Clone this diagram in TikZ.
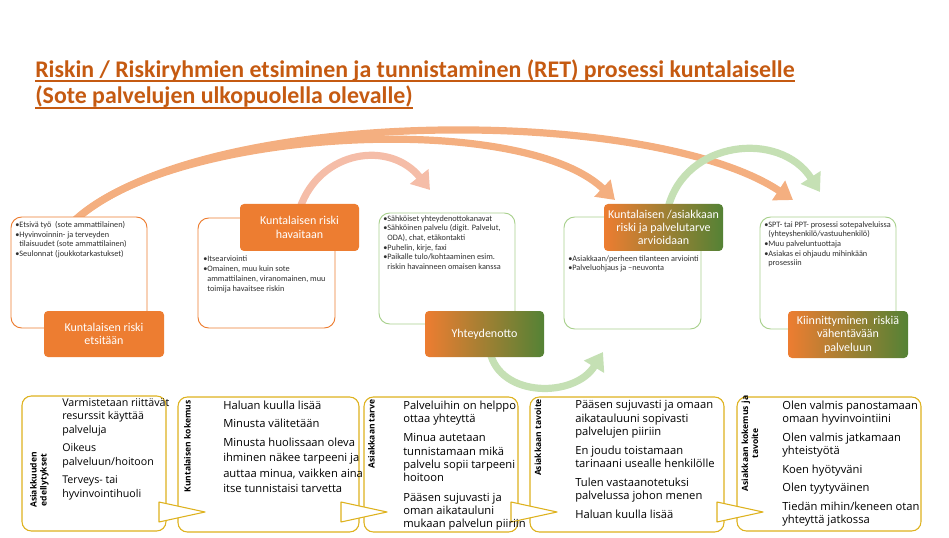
\documentclass[tikz,border=0pt]{standalone}
\usepackage{fontspec}
\setmainfont{Carlito}
\newfontfamily\bodyfont{Open Sans}
\usetikzlibrary{arrows.meta,fit}
\definecolor{ttl}{HTML}{C55A11}
\definecolor{org}{HTML}{ED7D31}
\definecolor{grn}{HTML}{548235}
\definecolor{lgrn}{HTML}{A9D18E}
\definecolor{arcor}{HTML}{F4AF80}
\definecolor{arcsal}{HTML}{F5BDA8}
\definecolor{arcgr}{HTML}{C5E0B4}
\definecolor{gold}{RGB}{222,178,30}
\definecolor{smtxt}{HTML}{303030}
\begin{document}
\begin{tikzpicture}[x=0.75pt,y=-0.75pt,
  topbox/.style={draw, line width=0.7pt, rounded corners=8pt, fill=white, inner sep=0pt},
  lab/.style={rounded corners=3pt, inner sep=0pt},
  labtxt/.style={text=white, align=center, font=\fontsize{9}{10}\selectfont, inner sep=0pt},
  smalltxt/.style={align=left, inner sep=0pt, anchor=north west, text=smtxt, font=\fontsize{6.2}{7.3}\selectfont},
  botbox/.style={draw=gold, line width=0.8pt, rounded corners=7pt, fill=white, inner sep=0pt},
  bottxt/.style={align=left, inner sep=0pt, anchor=north west, font=\bodyfont\fontsize{8.4}{10}\selectfont},
  rottxt/.style={rotate=90, align=center, inner sep=0pt, font=\bodyfont\bfseries\fontsize{6.4}{7.5}\selectfont},
  arcline/.style={line width=5.4pt, -{Triangle[width=17pt,length=13pt]}},
  tri/.style={draw=gold, line width=0.8pt, fill=white, line join=round},
  ttltxt/.style={anchor=base west, inner sep=0pt, text=ttl, font=\bfseries\fontsize{17.9}{20}\selectfont},
  ul/.style={draw=ttl, line width=1.4pt}
]
\useasboundingbox (0,0) rectangle (949,538);

% title
\node[ttltxt] (t1) at (35,77.5) {Riskin / Riskiryhmien etsiminen ja tunnistaminen (RET) prosessi kuntalaiselle};
\node[ttltxt] (t2) at (35,104) {(Sote palvelujen ulkopuolella olevalle)};
\draw[ul] ([yshift=-2.8pt]t1.base west) -- ([yshift=-2.8pt]t1.base east);
\draw[ul] ([yshift=-2.8pt]t2.base west) -- ([yshift=-2.8pt]t2.base east);

% arc coordinates
\coordinate (s1) at (73,222);
\coordinate (e5) at (793,200);
\coordinate (e4) at (615,200);
\coordinate (s2) at (300,208);
\coordinate (e3) at (430,190);
\coordinate (s4) at (668,208);
\coordinate (e5b) at (820,192);
\coordinate (s3b) at (490,352);
\coordinate (e4b) at (603,352);

\draw[arcline, arcor] (s1) .. controls (200,105) and (650,105) .. (e5);
\draw[arcline, arcor] (s1) .. controls (170,128) and (520,110) .. (e4);
\draw[arcline, arcsal] (s2) .. controls (320,150) and (390,140) .. (e3);
\draw[arcline, arcgr] (s4) .. controls (685,140) and (780,130) .. (e5b);
\draw[arcline, arcgr] (s3b) .. controls (500,398) and (575,398) .. (e4b);

% top boxes
\node[topbox, draw=org, fit={(11,217) (147,328)}] (b1) {};
\node[topbox, draw=org, fit={(198,218) (335,328)}] (b2) {};
\node[topbox, draw=lgrn, fit={(379,213) (515,324)}] (b3) {};
\node[topbox, draw=lgrn, fit={(564,217) (701,329)}] (b4) {};
\node[topbox, draw=lgrn, fit={(760,217) (896,329)}] (b5) {};

\node[smalltxt] (b1t) at (15,221) {•Etsivä työ\ \ (sote ammattilainen)\\•Hyvinvoinnin- ja terveyden\\\phantom{•}tilaisuudet (sote ammattilainen)\\•Seulonnat (joukkotarkastukset)};
\node[smalltxt] (b2t) at (203,256) {•Itsearviointi\\•Omainen, muu kuin sote\\\phantom{•}ammattilainen, viranomainen, muu\\\phantom{•}toimija havaitsee riskin};
\node[smalltxt] (b3t) at (383,215) {•Sähköiset yhteydenottokanavat\\•Sähköinen palvelu (digit. Palvelut,\\\phantom{•}ODA), chat, etäkontakti\\•Puhelin, kirje, faxi\\•Paikalle tulo/kohtaaminen esim.\\\phantom{•}riskin havainneen omaisen kanssa};
\node[smalltxt] (b4t) at (568,255) {•Asiakkaan/perheen tilanteen arviointi\\•Palveluohjaus ja –neuvonta};
\node[smalltxt] (b5t) at (764,221) {•SPT- tai PPT- prosessi sotepalveluissa\\\phantom{•}(yhteyshenkilö/vastuuhenkilö)\\•Muu palveluntuottaja\\•Asiakas ei ohjaudu mihinkään\\\phantom{•}prosessiin};

% labels
\node[lab, fill=org, fit={(44,311) (164,357)}] (l1) {};
\node[lab, fill=org, fit={(240,204) (359,251)}] (l2) {};
\node[lab, left color=org, right color=grn, fit={(425,311) (544,357)}] (l3) {};
\node[lab, left color=org, right color=grn, fit={(604,204) (723,251)}] (l4) {};
\node[lab, left color=org, right color=grn, fit={(788,311) (908,358)}] (l5) {};
\node[labtxt] at (l1.center) {Kuntalaisen riski\\etsitään};
\node[labtxt] at (l2.center) {Kuntalaisen riski\\havaitaan};
\node[labtxt] at (l3.center) {Yhteydenotto};
\node[labtxt] at (l4.center) {Kuntalaisen /asiakkaan\\riski ja palvelutarve\\arvioidaan};
\node[labtxt] at (l5.center) {Kiinnittyminen\ \ riskiä\\vähentävään\\palveluun};

% bottom boxes
\node[botbox, fit={(22,396) (166,531)}] (c1) {};
\node[botbox, fit={(178,397) (359,532)}] (c2) {};
\node[botbox, fit={(364,397) (518,532)}] (c3) {};
\node[botbox, fit={(530,397) (724,532)}] (c4) {};
\node[botbox, fit={(737,397) (921,531)}] (c5) {};

% pointers
\coordinate (p1) at (205,512);
\coordinate (p2) at (387,512);
\coordinate (p3) at (557,512);
\coordinate (p4) at (763,512);
\path[tri] (159,502) -- (p1) -- (159,522) -- cycle;
\path[tri] (341,502) -- (p2) -- (341,522) -- cycle;
\path[tri] (511,502) -- (p3) -- (511,522) -- cycle;
\path[tri] (717,502) -- (p4) -- (717,522) -- cycle;

\node[rottxt] (r1) at (39.5,480) {Asiakkuuden\\edellytykset};
\node[rottxt] (r2) at (187.5,446.5) {Kuntalaisen kokemus};
\node[rottxt] (r3) at (371.5,434) {Asiakkaan tarve};
\node[rottxt] (r4) at (538,437.5) {Asiakkaan tavoite};
\node[rottxt] (r5) at (750,443.5) {Asiakkaan kokemus ja\\tavoite};

\node[bottxt, font=\bodyfont\fontsize{8}{10}\selectfont] (c1t) at (62,398.5) {Varmistetaan riittävät\\resurssit käyttää\\palveluja\\[4pt]Oikeus\\palveluun/hoitoon\\[4pt]Terveys- tai\\hyvinvointihuoli};
\node[bottxt, font=\bodyfont\fontsize{8.4}{11.6}\selectfont] (c2t) at (223,400.5) {Haluan kuulla lisää\\[2.2pt]Minusta välitetään\\[2.2pt]Minusta huolissaan oleva\\ihminen näkee tarpeeni ja\\auttaa minua, vaikken aina\\itse tunnistaisi tarvetta};
\node[bottxt] (c3t) at (403,400.5) {Palveluihin on helppo\\ottaa yhteyttä\\[4.5pt]Minua autetaan\\tunnistamaan mikä\\palvelu sopii tarpeeni\\hoitoon\\[4.5pt]Pääsen sujuvasti ja\\oman aikatauluni\\mukaan palvelun piiriin};
\node[bottxt] (c4t) at (575,400.5) {Pääsen sujuvasti ja omaan\\aikatauluuni sopivasti\\palvelujen piiriin\\[4pt]En joudu toistamaan\\tarinaani usealle henkilölle\\[4pt]Tulen vastaanotetuksi\\palvelussa johon menen\\[4pt]Haluan kuulla lisää};
\node[bottxt] (c5t) at (782,400.5) {Olen valmis panostamaan\\omaan hyvinvointiini\\[4pt]Olen valmis jatkamaan\\yhteistyötä\\[4pt]Koen hyötyväni\\[4pt]Olen tyytyväinen\\[4pt]Tiedän mihin/keneen otan\\yhteyttä jatkossa};
\end{tikzpicture}
\end{document}
